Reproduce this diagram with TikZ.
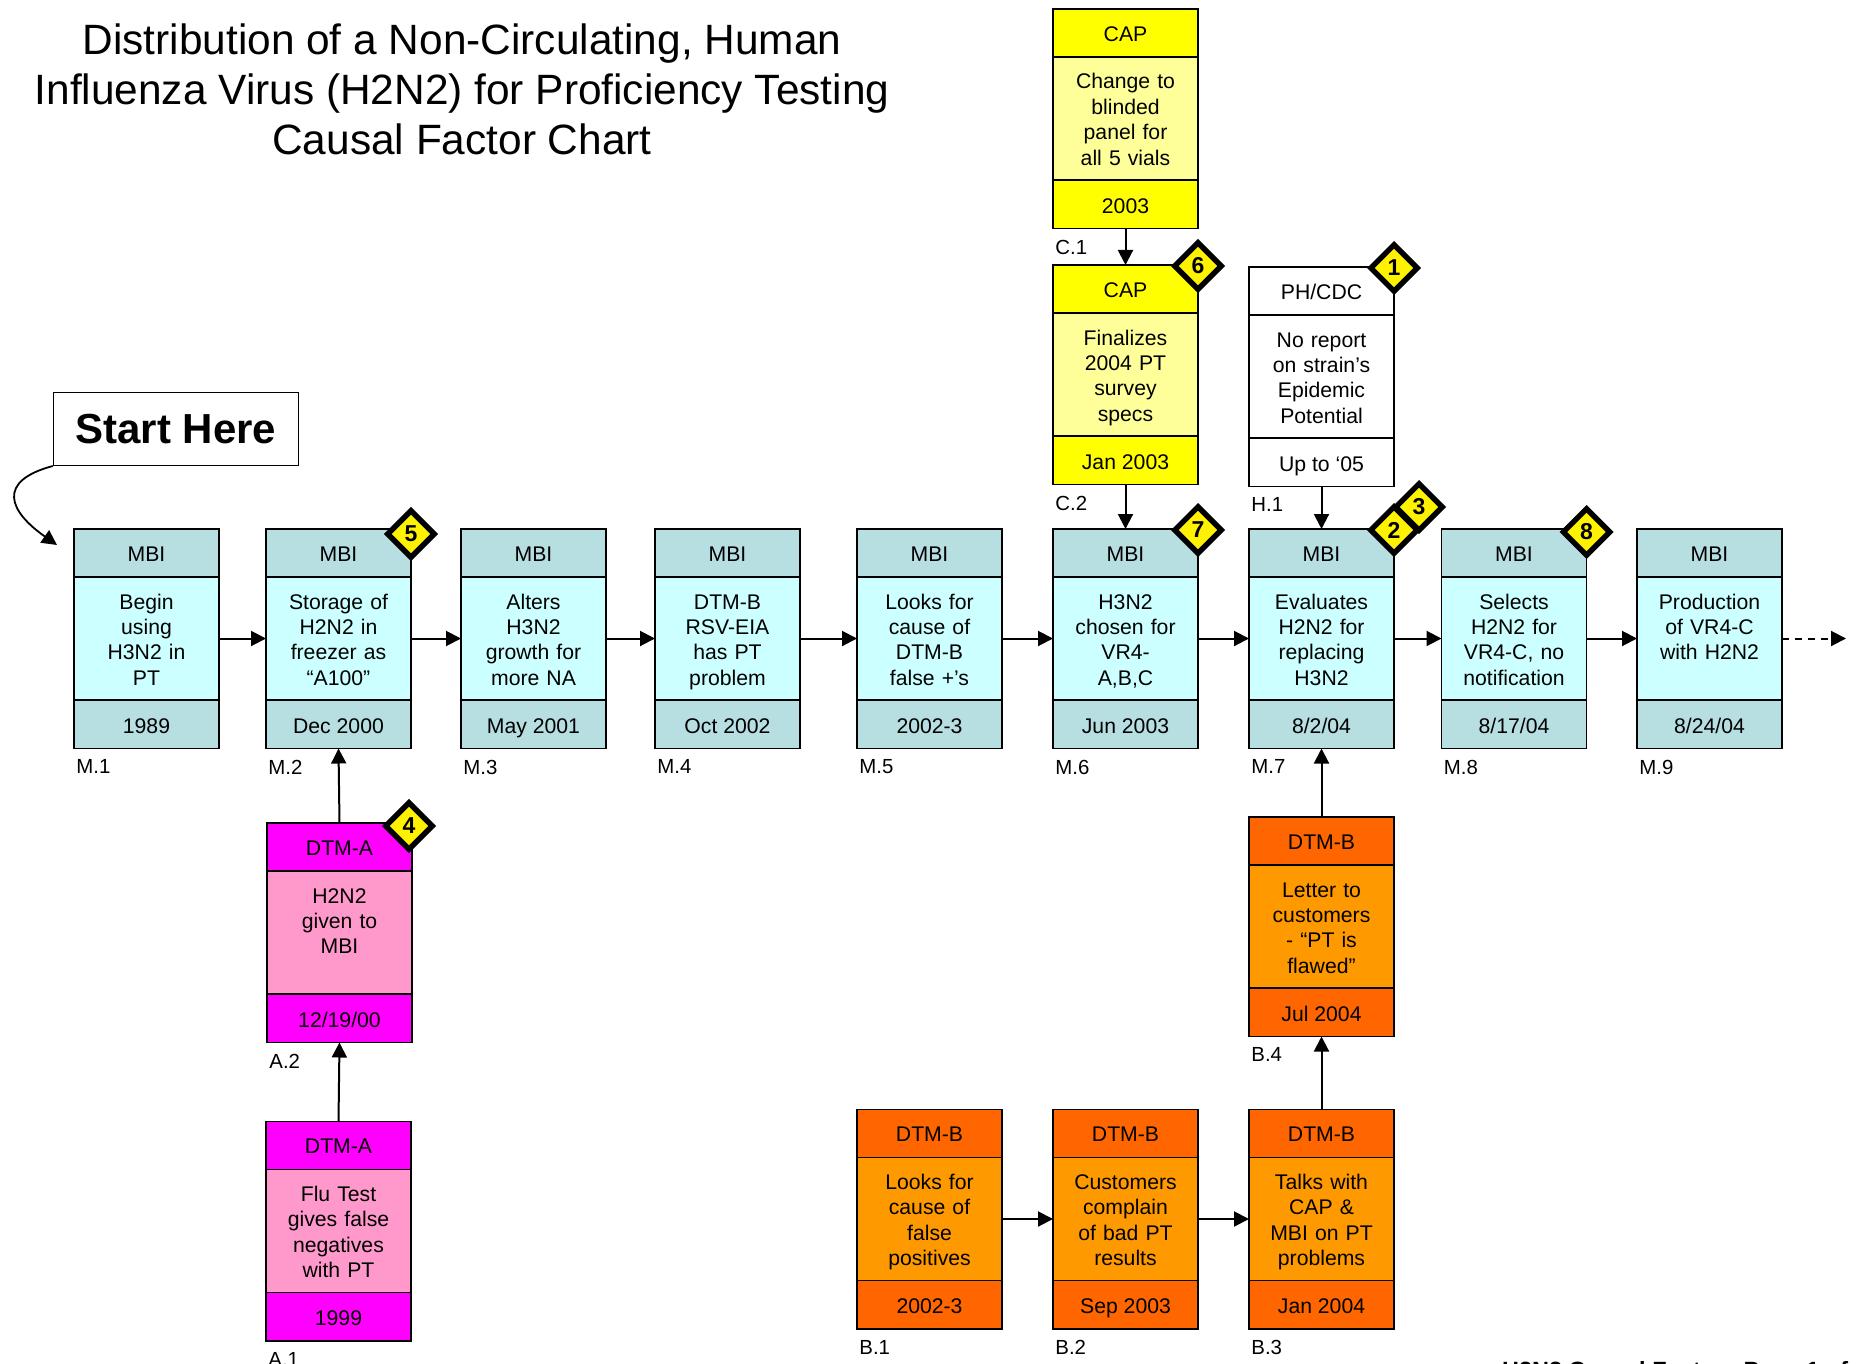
\documentclass[tikz,border=0pt]{standalone}
\usepackage{fontspec}
\setmainfont{Liberation Sans}
\usetikzlibrary{positioning,shapes.geometric,arrows.meta}

\definecolor{mbihead}{HTML}{B7DEE1}
\definecolor{mbibody}{HTML}{CCFFFF}
\definecolor{caphead}{HTML}{FFFF00}
\definecolor{capbody}{HTML}{FFFF99}
\definecolor{dtmahead}{HTML}{FF00FF}
\definecolor{dtmabody}{HTML}{FF99CC}
\definecolor{dtmbhead}{HTML}{FF6600}
\definecolor{dtmbbody}{HTML}{FF9900}

\tikzset{
  cfpart/.style={draw, line width=0.85pt, outer sep=0pt, inner sep=0pt,
    minimum width=72.5pt, font=\fontsize{10.6}{12.7}\selectfont},
  cfhead/.style={cfpart, minimum height=24pt, text height=8.4pt, text depth=0pt},
  cfbody/.style={cfpart, text width=72.5pt, align=center,
    text height=16pt, text depth=45.5pt},
  cftag/.style={inner sep=0pt, font=\fontsize{10.2}{12}\selectfont},
  mbi head/.style={fill=mbihead}, mbi body/.style={fill=mbibody},
  cap head/.style={fill=caphead}, cap body/.style={fill=capbody},
  cdc head/.style={fill=white}, cdc body/.style={fill=white},
  dtma head/.style={fill=dtmahead}, dtma body/.style={fill=dtmabody},
  dtmb head/.style={fill=dtmbhead}, dtmb body/.style={fill=dtmbbody},
  badge/.style={diamond, aspect=1, draw, line width=2.7pt, fill=yellow,
    inner sep=0pt, outer sep=0pt, minimum size=23.2pt, yshift=-0.5pt,
    font=\bfseries\fontsize{11.5}{12}\selectfont},
  flow/.style={line width=1pt, -{Triangle[length=7.5pt,width=7.5pt]}},
  startbox/.style={draw, line width=0.7pt, inner sep=0pt, minimum width=122.5pt,
    minimum height=36.3pt, font=\bfseries\fontsize{21}{25}\selectfont},
  title/.style={align=center, inner sep=0pt, font=\fontsize{21.2}{25}\selectfont}
}

% name, top left corner, colours, actor, event, date, tag
\newcommand\cfbox[7]{%
  \node[cfhead, #3 head, anchor=north west] (#1) at (#2) {#4};
  \node[cfbody, #3 body, below=0pt of #1] (#1-b) {#5};
  \node[cfhead, #3 head, below=0pt of #1-b, minimum height=24.25pt,
    text height=9.2pt] (#1-f) {#6};
  \node[cftag, below right=5.5pt and 1pt of #1-f.south west] (#1-t) {#7};
}

\begin{document}
\begin{tikzpicture}[x=0.5pt, y=-0.5pt]
\useasboundingbox (0,0) rectangle (1857,1364);

\node[title] (title) at (462,89) {Distribution of a Non-Circulating, Human\\
  Influenza Virus (H2N2) for Proficiency Testing\\Causal Factor Chart};
\node[startbox] (start) at (176,429) {Start Here};

% main line
\cfbox{m1}{74,529}{mbi}{MBI}{Begin\\using\\H3N2 in\\PT}{1989}{M.1}
\cfbox{m2}{266,529}{mbi}{MBI}{Storage of\\H2N2 in\\freezer as\\“A100”}{Dec 2000}{M.2}
\cfbox{m3}{461,529}{mbi}{MBI}{Alters\\H3N2\\growth for\\more NA}{May 2001}{M.3}
\cfbox{m4}{655,529}{mbi}{MBI}{DTM-B\\RSV-EIA\\has PT\\problem}{Oct 2002}{M.4}
\cfbox{m5}{857,529}{mbi}{MBI}{Looks for\\cause of\\DTM-B\\false +’s}{2002-3}{M.5}
\cfbox{m6}{1053,529}{mbi}{MBI}{H3N2\\chosen for\\VR4-\\A,B,C}{Jun 2003}{M.6}
\cfbox{m7}{1249,529}{mbi}{MBI}{Evaluates\\H2N2 for\\replacing\\H3N2}{8/2/04}{M.7}
\cfbox{m8}{1441.5,529}{mbi}{MBI}{Selects\\H2N2 for\\VR4-C, no\\notification}{8/17/04}{M.8}
\cfbox{m9}{1637,529}{mbi}{MBI}{Production\\of VR4-C\\with H2N2}{8/24/04}{M.9}

% upper branches
\cfbox{c1}{1053,9}{cap}{CAP}{Change to\\blinded\\panel for\\all 5 vials}{2003}{C.1}
\cfbox{c2}{1053,265}{cap}{CAP}{Finalizes\\2004 PT\\survey\\specs}{Jan 2003}{C.2}
\cfbox{h1}{1249,267}{cdc}{PH/CDC}{No report\\on strain’s\\Epidemic\\Potential}{Up to ‘05}{H.1}

% lower branches
\cfbox{a2}{267,823}{dtma}{DTM-A}{H2N2\\given to\\MBI}{12/19/00}{A.2}
\cfbox{a1}{266,1121.5}{dtma}{DTM-A}{Flu Test\\gives false\\negatives\\with PT}{1999}{A.1}
\cfbox{b4}{1249,817}{dtmb}{DTM-B}{Letter to\\customers\\- “PT is\\flawed”}{Jul 2004}{B.4}
\cfbox{b1}{857,1109.5}{dtmb}{DTM-B}{Looks for\\cause of\\false\\positives}{2002-3}{B.1}
\cfbox{b2}{1053,1109.5}{dtmb}{DTM-B}{Customers\\complain\\of bad PT\\results}{Sep 2003}{B.2}
\cfbox{b3}{1249,1109.5}{dtmb}{DTM-B}{Talks with\\CAP \&\\MBI on PT\\problems}{Jan 2004}{B.3}

% connectors
\coordinate (start-end) at ([shift={(-17,16)}]m1.north west);
\draw[flow, line width=0.9pt] (start.south west) to[out=195, in=145, looseness=1.9] (start-end);
\foreach \a/\b in {m1/m2,m2/m3,m3/m4,m4/m5,m5/m6,m6/m7,m7/m8,m8/m9,b1/b2,b2/b3}
  \draw[flow] (\a-b.east) -- (\b-b.west);
\foreach \a/\b in {c1-f/c2,c2-f/m6,h1-f/m7}
  \draw[flow] (\a.south) -- (\b.north);
\foreach \a/\b in {a1/a2-f,a2/m2-f,b3/b4-f,b4/m7-f}
  \draw[flow] (\a.north) -- (\b.south);
\coordinate (m9-end) at ([xshift=32pt]m9-b.east);
\draw[flow, dash pattern=on 3.5pt off 3pt] (m9-b.east) -- (m9-end);

% numbered markers
\node[badge] (d1) at (h1.north east) {1};
\node[badge] (d2) at (m7.north east) {2};
\node[badge, xshift=12.5pt, yshift=12pt] (d3) at (d2.center) {3};
\node[badge, xshift=-1.5pt, yshift=-1pt] (d4) at (a2.north east) {4};
\node[badge, yshift=-2pt] (d5) at (m2.north east) {5};
\node[badge] (d6) at (c2.north east) {6};
\node[badge] (d7) at (m6.north east) {7};
\node[badge, yshift=-1pt] (d8) at (m8.north east) {8};

\node[anchor=north west, inner sep=0pt, font=\bfseries\fontsize{11.75}{14}\selectfont]
  (pagenote) at (1501.7,1360.7) {H2N2 Causal Factors Page 1 of};
\end{tikzpicture}
\end{document}
